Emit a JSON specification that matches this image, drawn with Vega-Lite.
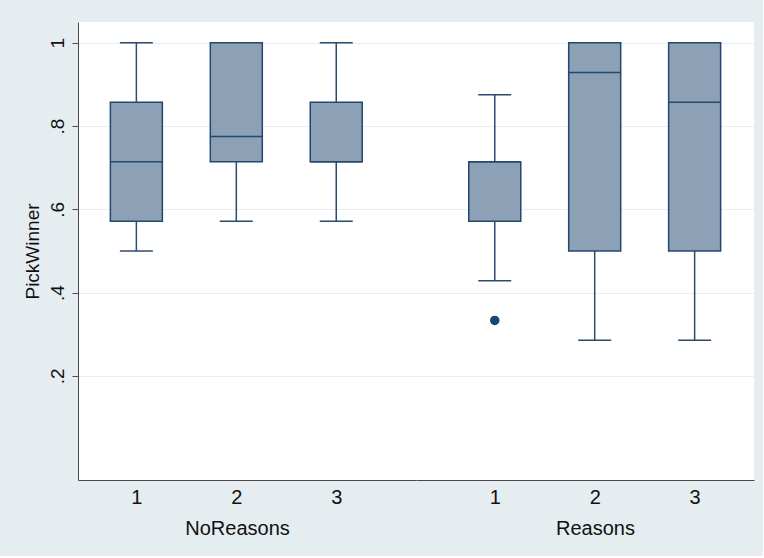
{
  "$schema": "https://vega.github.io/schema/vega-lite/v6.json",
  "background": "#e5edf0",
  "padding": {"left": 23, "top": 22, "right": 9, "bottom": 18},
  "config": {
    "font": "Liberation Sans",
    "view": {"fill": "white", "stroke": null},
    "concat": {"spacing": 0},
    "axis": {
      "domainColor": "#4a4a4a",
      "domainWidth": 1,
      "gridColor": "#e6eef1",
      "gridWidth": 1,
      "labelColor": "#111111",
      "titleColor": "#111111",
      "labelFontSize": 19,
      "titleFontSize": 19,
      "titleFontWeight": "normal",
      "labelFont": "Liberation Sans",
      "titleFont": "Liberation Sans"
    }
  },
  "datasets": {
    "boxes": [
      {"group": "NoReasons", "num": 1, "lower": 0.5, "q1": 0.5714, "median": 0.7143, "q3": 0.8571, "upper": 1.0},
      {"group": "NoReasons", "num": 2, "lower": 0.5714, "q1": 0.7143, "median": 0.775, "q3": 1.0, "upper": 1.0},
      {"group": "NoReasons", "num": 3, "lower": 0.5714, "q1": 0.7143, "median": 0.7143, "q3": 0.8571, "upper": 1.0},
      {"group": "Reasons", "num": 1, "lower": 0.4286, "q1": 0.5714, "median": 0.7143, "q3": 0.7143, "upper": 0.875},
      {"group": "Reasons", "num": 2, "lower": 0.2857, "q1": 0.5, "median": 0.9286, "q3": 1.0, "upper": 1.0},
      {"group": "Reasons", "num": 3, "lower": 0.2857, "q1": 0.5, "median": 0.8571, "q3": 1.0, "upper": 1.0}
    ],
    "outliers": [
      {"group": "Reasons", "num": 1, "value": 0.3333}
    ]
  },
  "bounds": "flush",
  "spacing": 0,
  "hconcat": [
    {
      "width": 338,
      "height": 458,
      "data": {"name": "boxes"},
      "transform": [{"filter": "datum.group === 'NoReasons'"}],
      "encoding": {
        "x": {
          "field": "num", "type": "quantitative",
          "scale": {"domain": [0.466, 3.748], "nice": false, "zero": false},
          "axis": {"values": [1, 2, 3], "format": "d", "title": "NoReasons", "titleFontSize": 20, "labelFontSize": 20, "ticks": false, "tickSize": 0, "grid": false, "labelPadding": 7, "titlePadding": 11, "titleX": 159}
        }
      },
      "layer": [
        {
          "mark": {"type": "rule", "color": "#2b4b6e", "strokeWidth": 1.5},
          "encoding": {
            "y": {
              "field": "lower", "type": "quantitative",
              "scale": {"domain": [-0.05, 1.05], "nice": false, "zero": false},
              "axis": {
                "values": [0.2, 0.4, 0.6, 0.8, 1],
                "labelExpr": "datum.value > 0.95 ? '1' : replace(format(datum.value, '.1f'), '0.', '.')",
                "labelAngle": 270,
                "tickSize": 6,
                "tickColor": "#4a4a4a",
                "labelPadding": 5,
                "title": "PickWinner",
                "titlePadding": 6,
                "grid": true
              }
            },
            "y2": {"field": "q1"}
          }
        },
        {
          "mark": {"type": "rule", "color": "#2b4b6e", "strokeWidth": 1.5},
          "encoding": {
            "y": {"field": "q3", "type": "quantitative", "scale": {"domain": [-0.05, 1.05], "nice": false, "zero": false}},
            "y2": {"field": "upper"}
          }
        },
        {
          "mark": {"type": "tick", "orient": "horizontal", "size": 33, "thickness": 1.5, "color": "#2b4b6e", "opacity": 1},
          "encoding": {"y": {"field": "lower", "type": "quantitative", "scale": {"domain": [-0.05, 1.05], "nice": false, "zero": false}}}
        },
        {
          "mark": {"type": "tick", "orient": "horizontal", "size": 33, "thickness": 1.5, "color": "#2b4b6e", "opacity": 1},
          "encoding": {"y": {"field": "upper", "type": "quantitative", "scale": {"domain": [-0.05, 1.05], "nice": false, "zero": false}}}
        },
        {
          "mark": {"type": "bar", "size": 52, "fill": "#8ca0b6", "stroke": "#234870", "strokeWidth": 1.5, "opacity": 1},
          "encoding": {
            "y": {"field": "q1", "type": "quantitative", "scale": {"domain": [-0.05, 1.05], "nice": false, "zero": false}},
            "y2": {"field": "q3"}
          }
        },
        {
          "mark": {"type": "tick", "orient": "horizontal", "size": 52, "thickness": 1.5, "color": "#234870", "opacity": 1},
          "encoding": {"y": {"field": "median", "type": "quantitative", "scale": {"domain": [-0.05, 1.05], "nice": false, "zero": false}}}
        }
      ]
    },
    {
      "width": 338,
      "height": 458,
      "layer": [
        {
          "data": {"name": "boxes"},
          "transform": [{"filter": "datum.group === 'Reasons'"}],
          "encoding": {
            "x": {
              "field": "num", "type": "quantitative",
              "scale": {"domain": [0.262, 3.544], "nice": false, "zero": false},
              "axis": {"values": [1, 2, 3], "format": "d", "title": "Reasons", "titleFontSize": 20, "labelFontSize": 20, "ticks": false, "tickSize": 0, "grid": false, "labelPadding": 7, "titlePadding": 11, "titleX": 179}
            }
          },
          "layer": [
            {
              "mark": {"type": "rule", "color": "#2b4b6e", "strokeWidth": 1.5},
              "encoding": {
                "y": {
                  "field": "lower", "type": "quantitative",
                  "scale": {"domain": [-0.05, 1.05], "nice": false, "zero": false},
                  "axis": {"values": [0.2, 0.4, 0.6, 0.8, 1], "labels": false, "ticks": false, "domain": false, "title": null, "grid": true, "minExtent": 0, "maxExtent": 0}
                },
                "y2": {"field": "q1"}
              }
            },
            {
              "mark": {"type": "rule", "color": "#2b4b6e", "strokeWidth": 1.5},
              "encoding": {
                "y": {"field": "q3", "type": "quantitative", "scale": {"domain": [-0.05, 1.05], "nice": false, "zero": false}},
                "y2": {"field": "upper"}
              }
            },
            {
              "mark": {"type": "tick", "orient": "horizontal", "size": 33, "thickness": 1.5, "color": "#2b4b6e", "opacity": 1},
              "encoding": {"y": {"field": "lower", "type": "quantitative", "scale": {"domain": [-0.05, 1.05], "nice": false, "zero": false}}}
            },
            {
              "mark": {"type": "tick", "orient": "horizontal", "size": 33, "thickness": 1.5, "color": "#2b4b6e", "opacity": 1},
              "encoding": {"y": {"field": "upper", "type": "quantitative", "scale": {"domain": [-0.05, 1.05], "nice": false, "zero": false}}}
            },
            {
              "mark": {"type": "bar", "size": 52, "fill": "#8ca0b6", "stroke": "#234870", "strokeWidth": 1.5, "opacity": 1},
              "encoding": {
                "y": {"field": "q1", "type": "quantitative", "scale": {"domain": [-0.05, 1.05], "nice": false, "zero": false}},
                "y2": {"field": "q3"}
              }
            },
            {
              "mark": {"type": "tick", "orient": "horizontal", "size": 52, "thickness": 1.5, "color": "#234870", "opacity": 1},
              "encoding": {"y": {"field": "median", "type": "quantitative", "scale": {"domain": [-0.05, 1.05], "nice": false, "zero": false}}}
            }
          ]
        },
        {
          "data": {"name": "outliers"},
          "mark": {"type": "point", "filled": true, "size": 90, "color": "#1a476f", "opacity": 1},
          "encoding": {
            "x": {"field": "num", "type": "quantitative", "scale": {"domain": [0.262, 3.544], "nice": false, "zero": false}},
            "y": {"field": "value", "type": "quantitative", "scale": {"domain": [-0.05, 1.05], "nice": false, "zero": false}}
          }
        }
      ]
    }
  ]
}
